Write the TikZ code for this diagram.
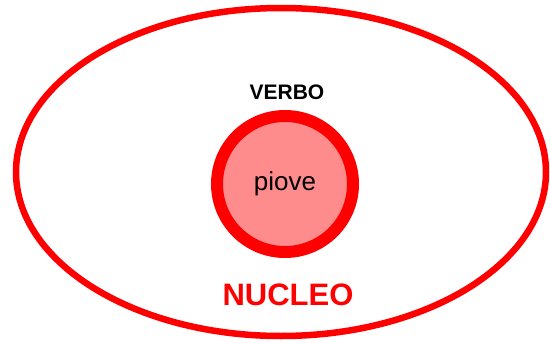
\documentclass[tikz,border=0pt]{standalone}
\usepackage{fontspec}
\setmainfont{Liberation Sans}
\definecolor{nred}{RGB}{255,0,0}
\definecolor{nfill}{RGB}{255,140,140}
\begin{document}
\begin{tikzpicture}[x=1pt,y=-1pt,
  outerring/.style={draw=nred,line width=6.5pt},
  core/.style={circle,draw=nred,fill=nfill,line width=12pt,minimum size=136pt,inner sep=0pt,font=\fontsize{26}{30}\selectfont},
  lbl/.style={font=\bfseries\fontsize{21}{24}\selectfont,text=black},
  title/.style={font=\bfseries\fontsize{31}{34}\selectfont,text=nred}]
\useasboundingbox (0,0) rectangle (550,343);
\draw[outerring] (281,172) ellipse [x radius=265, y radius=164];
\node[core] (piove) at (285,184) {piove};
\node[lbl] (verbo) at (287,92) {VERBO};
\node[title] (nucleo) at (288,295) {NUCLEO};
\end{tikzpicture}
\end{document}
